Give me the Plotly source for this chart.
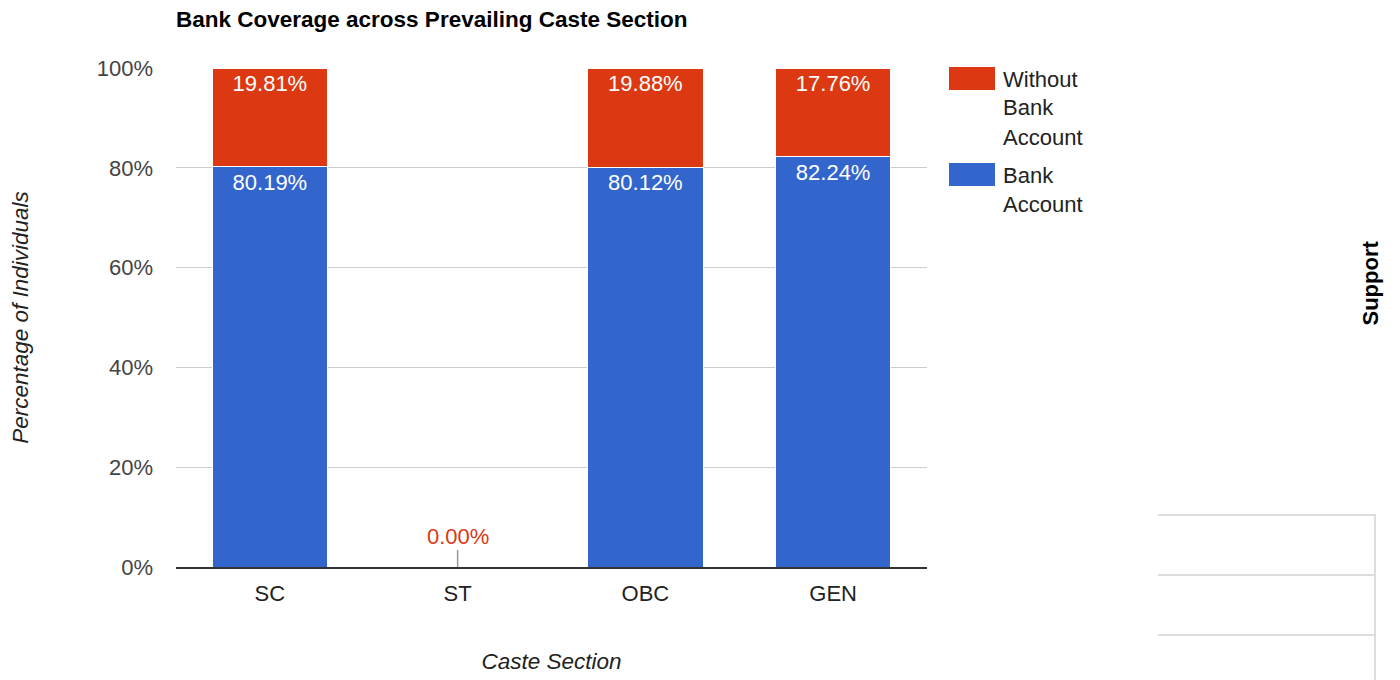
import plotly.graph_objects as go

categories = ["SC", "ST", "OBC", "GEN"]
bank = [80.19, 0.0, 80.12, 82.24]
without_bank = [19.81, 0.0, 19.88, 17.76]
y_ticks = [0, 20, 40, 60, 80, 100]
y_tick_labels = ["0%", "20%", "40%", "60%", "80%", "100%"]
series_lines = [["Without", "Bank", "Account"], ["Bank", "Account"]]

BLUE = "#3366cc"
RED = "#dc3912"
FONT = "Arial, Liberation Sans, sans-serif"

OFF = 8  # page body margin
# plot area in screen pixels
L, R, T, B = 176, 927, 68, 567
W, H = 1400, 680


def px(x):
    return (x - L) / (R - L)


def py(y):
    return (B - y) / (B - T)


def fmt(vals):
    return [f"{v:.2f}%" if v > 0 else "" for v in vals]


fig = go.Figure()
fig.add_trace(go.Bar(
    x=categories, y=bank, name="Bank Account",
    marker=dict(color=BLUE, line=dict(color="white", width=1)),
    text=fmt(bank), textposition="inside", insidetextanchor="end",
    textfont=dict(color="white", size=22, family=FONT),
    textangle=0, hoverinfo="skip",
))
fig.add_trace(go.Bar(
    x=categories, y=without_bank, name="Without Bank Account",
    marker=dict(color=RED, line=dict(color="white", width=1)),
    text=fmt(without_bank), textposition="inside", insidetextanchor="end",
    textfont=dict(color="white", size=22, family=FONT),
    textangle=0, hoverinfo="skip",
))

annotations = []
# zero-value label with stem
for c, b, w in zip(categories, bank, without_bank):
    if b + w == 0:
        annotations.append(dict(
            x=c, y=b + w, xref="x", yref="y", text=f"{w:.2f}%",
            showarrow=True, arrowhead=0, arrowwidth=1.5, arrowcolor="#999999",
            ax=0, ay=-31, standoff=0,
            font=dict(color=RED, size=22, family=FONT),
        ))

# custom legend
legend_items = [(series_lines[0], RED, 67), (series_lines[1], BLUE, 163)]
shapes = []
for lines, color, top in legend_items:
    shapes.append(dict(type="rect", xref="paper", yref="paper",
                       x0=px(949), x1=px(995), y0=py(top + 23), y1=py(top),
                       fillcolor=color, line=dict(width=0)))
    for k, line in enumerate(lines):
        annotations.append(dict(x=px(1001), y=py(top + 12 + 29 * k), xref="paper", yref="paper",
                                xanchor="left", yanchor="middle", showarrow=False,
                                align="left", text=line,
                                font=dict(color="#222222", size=22, family=FONT)))

# side widget
annotations.append(dict(x=px(1384), y=py(283), xref="paper", yref="paper",
                        text="<b>Support</b>", textangle=-90, showarrow=False,
                        font=dict(color="black", size=22, family=FONT)))
for yy in (515, 575, 635):
    shapes.append(dict(type="line", xref="paper", yref="paper",
                       x0=px(1158), x1=px(1375), y0=py(yy), y1=py(yy),
                       line=dict(color="#dddddd", width=2)))
shapes.append(dict(type="line", xref="paper", yref="paper",
                   x0=px(1375), x1=px(1375), y0=py(514), y1=py(700),
                   line=dict(color="#dddddd", width=2)))

fig.update_layout(
    width=W, height=H,
    barmode="stack", bargap=0.385,
    showlegend=False,
    plot_bgcolor="white", paper_bgcolor="white",
    margin=dict(l=L - OFF, r=W - R + OFF, t=T - OFF, b=H - B + OFF, autoexpand=False),
    font=dict(family=FONT, color="#444444", size=22),
    title=dict(text="<b>Bank Coverage across Prevailing Caste Section</b>",
               x=0, xref="paper", xanchor="left",
               y=1 - (19 - OFF) / H, yref="container", yanchor="middle",
               font=dict(family=FONT, size=22.5, color="black")),
    xaxis=dict(showgrid=False, showline=True, linecolor="#333333", linewidth=2,
               ticks="", ticklabelstandoff=6, tickfont=dict(size=22, color="#222222"),
               title=dict(text="<i>Caste Section</i>", standoff=48,
                          font=dict(size=22.5, color="#222222"))),
    yaxis=dict(range=[0, 100], tickmode="array", tickvals=y_ticks,
               ticktext=y_tick_labels,
               showgrid=True, gridcolor="#cccccc", gridwidth=1,
               zeroline=False, ticks="", ticklabelstandoff=22,
               tickfont=dict(size=22, color="#444444"),
               title=dict(text="<i>Percentage of Individuals</i>", standoff=61,
                          font=dict(size=22.5, color="#222222"))),
    shapes=shapes,
    annotations=annotations,
)

fig.write_html("out.html")
